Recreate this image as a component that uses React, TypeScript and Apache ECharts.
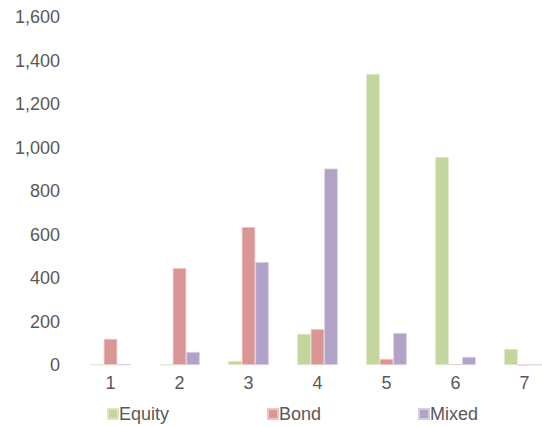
import React, { useEffect, useRef } from "react";
import * as echarts from "echarts";

const categories = ["1", "2", "3", "4", "5", "6", "7"];
const equity = [2, 3, 18, 143, 1338, 956, 74];
const bond = [120, 446, 634, 165, 28, 4, 0];
const mixed = [3, 60, 473, 903, 147, 37, 2];
const yTicks = [0, 200, 400, 600, 800, 1000, 1200, 1400, 1600];

const FONT = "Liberation Sans";
const TXT = "#595959";

export default function App() {
  const ref = useRef<HTMLDivElement>(null);
  useEffect(() => {
    if (!ref.current) return;
    const chart = echarts.init(ref.current, undefined, { renderer: "svg" });
    const legendBase = {
      top: 404,
      padding: 0,
      itemWidth: 10,
      itemHeight: 10,
      icon: "rect",
      textStyle: { color: TXT, fontSize: 18, lineHeight: 20, fontFamily: FONT, padding: [0, 0, 0, -4] },
    };
    chart.setOption({
      animation: false,
      backgroundColor: "#ffffff",
      grid: { left: 76, right: 0, top: 17, bottom: 62, containLabel: false },
      legend: [
        { ...legendBase, left: 107, data: ["Equity"] },
        { ...legendBase, left: 267, data: ["Bond"] },
        { ...legendBase, left: 418, data: ["Mixed"] },
      ],
      xAxis: {
        type: "category",
        data: categories,
        axisLine: { show: false },
        axisTick: { show: false },
        axisLabel: { color: TXT, fontSize: 18, fontFamily: FONT, margin: 9 },
      },
      yAxis: {
        type: "value",
        min: yTicks[0],
        max: yTicks[yTicks.length - 1],
        interval: 200,
        splitLine: { show: false },
        axisLine: { show: false },
        axisTick: { show: false },
        axisLabel: {
          color: TXT,
          fontSize: 18,
          fontFamily: FONT,
          margin: 16,
          formatter: (v: number) => v.toLocaleString("en-US"),
        },
      },
      series: [
        {
          name: "Equity",
          type: "bar",
          data: equity,
          barWidth: 13.5,
          barGap: "0%",
          itemStyle: { color: "#c3d69b", borderColor: "#dbe6c4", borderWidth: 0.8 },
        },
        {
          name: "Bond",
          type: "bar",
          data: bond,
          barWidth: 13.5,
          barGap: "0%",
          itemStyle: { color: "#d99694", borderColor: "#ecc4c3", borderWidth: 0.8 },
        },
        {
          name: "Mixed",
          type: "bar",
          data: mixed,
          barWidth: 13.5,
          barGap: "0%",
          itemStyle: { color: "#b3a2c7", borderColor: "#d6cce2", borderWidth: 0.8 },
        },
      ],
    });
    return () => chart.dispose();
  }, []);
  return (
    <div style={{ width: 542, height: 427, position: "absolute", left: 0, top: 0, overflow: "hidden", background: "#fff" }}>
      <div ref={ref} style={{ width: 559, height: 427 }} />
    </div>
  );
}
